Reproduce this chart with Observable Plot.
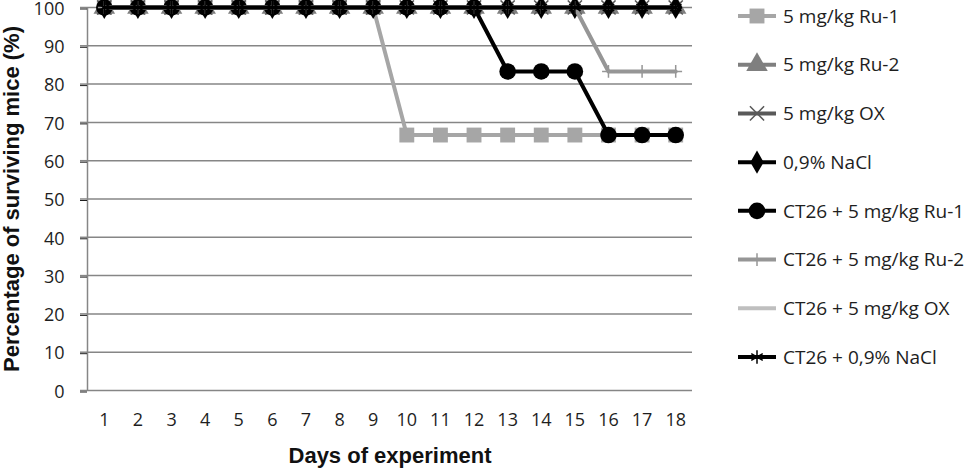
<!DOCTYPE html>
<html>
<head>
<meta charset="utf-8">
<script src="https://cdn.jsdelivr.net/npm/d3@7"></script>
<script src="https://cdn.jsdelivr.net/npm/@observablehq/plot@0.6"></script>
<style>
  html, body { margin: 0; padding: 0; background: #fff; }
  #wrap { position: relative; width: 978px; height: 469px; overflow: hidden; }
  #chart { position: absolute; left: 0; top: 0; }
  #legend { position: absolute; left: 734px; top: 0; }
</style>
</head>
<body>
<div id="wrap"><div id="chart"></div><div id="legend"></div></div>
<script>
// ---- data ----
const days = [1, 2, 3, 4, 5, 6, 7, 8, 9, 10, 11, 12, 13, 14, 15, 16, 17, 18];
const seriesNames = [
  "5 mg/kg Ru-1",
  "5 mg/kg Ru-2",
  "5 mg/kg OX",
  "0,9% NaCl",
  "CT26 + 5 mg/kg Ru-1",
  "CT26 + 5 mg/kg Ru-2",
  "CT26 + 5 mg/kg OX",
  "CT26 + 0,9% NaCl"
];
const ru1      = [100, 100, 100, 100, 100, 100, 100, 100, 100, 66.7, 66.7, 66.7, 66.7, 66.7, 66.7, 66.7, 66.7, 66.7];
const ru2      = [100, 100, 100, 100, 100, 100, 100, 100, 100, 100, 100, 100, 100, 100, 100, 100, 100, 100];
const ox       = [100, 100, 100, 100, 100, 100, 100, 100, 100, 100, 100, 100, 100, 100, 100, 100, 100, 100];
const nacl     = [100, 100, 100, 100, 100, 100, 100, 100, 100, 100, 100, 100, 100, 100, 100, 100, 100, 100];
const ct26Ru1  = [100, 100, 100, 100, 100, 100, 100, 100, 100, 100, 100, 100, 83.3, 83.3, 83.3, 66.7, 66.7, 66.7];
const ct26Ru2  = [100, 100, 100, 100, 100, 100, 100, 100, 100, 100, 100, 100, 100, 100, 100, 83.3, 83.3, 83.3];
const ct26Ox   = [100, 100, 100, 100, 100, 100, 100, 100, 100, 100, 100, 100, 100, 100, 100, 100, 100, 100];
const ct26Nacl = [100, 100, 100, 100, 100, 100, 100, 100, 100, 100, 100, 100, 100, 100, 100, 100, 100, 100];
const seriesValues = [ru1, ru2, ox, nacl, ct26Ru1, ct26Ru2, ct26Ox, ct26Nacl];
const yTicks = [0, 10, 20, 30, 40, 50, 60, 70, 80, 90, 100];
const xTitle = "Days of experiment";
const yTitle = "Percentage of surviving mice (%)";

// ---- styles ----
const styles = [
  {color: "#a6a6a6", width: 4, symbol: "square",   r: 8.4, filled: true},
  {color: "#7f7f7f", width: 4, symbol: "triangle", r: 8,   filled: true},
  {color: "#595959", width: 4, symbol: "times",    r: 6.5, filled: false, sw: 1.5},
  {color: "#000000", width: 4, symbol: "diamond",  r: 7,   filled: true},
  {color: "#000000", width: 4, symbol: "circle",   r: 8.3, filled: true},
  {color: "#969696", width: 4, symbol: "plus",     r: 4.2, filled: false, sw: 1.5},
  {color: "#bfbfbf", width: 4, symbol: null},
  {color: "#000000", width: 4, symbol: "asterisk", r: 6.3, filled: false, sw: 1.5}
];

const xDomain = [0.5, 18.5];
const gridColor = "#868686";
const textColor = "#1e1e1e";

const marks = [
  Plot.ruleY(yTicks, {stroke: gridColor, strokeWidth: 1.5}),
  Plot.ruleX([xDomain[0]], {stroke: gridColor, strokeWidth: 1.5}),
  Plot.axisY({ticks: yTicks, tickSize: 7, tickPadding: 16, stroke: gridColor, strokeWidth: 1.5,
              label: null, text: null}),
  Plot.axisY({ticks: yTicks, tickSize: 7, tickPadding: 16, tick: null, fill: textColor, dy: 1.5,
              fontSize: 18, fontFamily: "Open Sans", label: null}),
  Plot.axisY({ticks: [], tickSize: 0, label: yTitle, labelAnchor: "center", labelOffset: 84, labelArrow: "none",
              fontSize: 22, fontWeight: "bold", fontFamily: "Liberation Sans", fill: "#111"}),
  Plot.axisX({ticks: days, tickSize: 0, tickPadding: 23, fill: textColor, fontSize: 18, fontFamily: "Open Sans",
              tickFormat: d => String(d), label: null}),
  Plot.axisX({ticks: [], tickSize: 0, label: xTitle, labelAnchor: "center", labelOffset: 72, labelArrow: "none",
              fontSize: 22, fontWeight: "bold", fontFamily: "Liberation Sans", fill: "#111"})
];

seriesNames.forEach((name, i) => {
  const data = days.map((d, j) => ({day: d, value: seriesValues[i][j], name}));
  const s = styles[i];
  marks.push(Plot.line(data, {x: "day", y: "value", stroke: s.color, strokeWidth: s.width, strokeLinejoin: "round"}));
  if (s.symbol) {
    marks.push(Plot.dot(data, {
      x: "day", y: "value", symbol: () => s.symbol, r: s.r,
      fill: s.filled ? s.color : "none",
      stroke: s.filled ? "none" : s.color,
      strokeWidth: s.sw || 1
    }));
  }
});

const chart = Plot.plot({
  width: 978,
  height: 469,
  marginLeft: 87,
  marginRight: 286,
  marginTop: 7,
  marginBottom: 79,
  x: {type: "linear", domain: xDomain, axis: null},
  y: {type: "linear", domain: [0, 100], axis: null},
  symbol: {type: "identity"},
  style: {fontFamily: "Open Sans", fontSize: "18px", color: textColor, background: "transparent", overflow: "visible"},
  marks
});
document.getElementById("chart").appendChild(chart);

// ---- legend ----
const lw = 244, lh = 380;
const lsvg = d3.select("#legend").append("svg").attr("width", lw).attr("height", lh)
  .style("overflow", "visible");
const symbolMap = {
  square: d3.symbolSquare, triangle: d3.symbolTriangle, times: d3.symbolTimes,
  diamond: d3.symbolDiamond, circle: d3.symbolCircle, plus: d3.symbolPlus, asterisk: d3.symbolAsterisk
};
const ly = d3.scalePoint().domain(seriesNames).range([16, 357]);
seriesNames.forEach((name, i) => {
  const s = styles[i];
  const g = lsvg.append("g").attr("transform", `translate(0,${ly(name)})`);
  g.append("line").attr("x1", 4).attr("x2", 42).attr("y1", 0).attr("y2", 0)
    .attr("stroke", s.color).attr("stroke-width", s.width);
  if (s.symbol) {
    const size = Math.PI * s.r * s.r;
    g.append("path").attr("transform", "translate(23,0)")
      .attr("d", d3.symbol(symbolMap[s.symbol], size)())
      .attr("fill", s.filled ? s.color : "none")
      .attr("stroke", s.filled ? "none" : s.color)
      .attr("stroke-width", s.sw || 1);
  }
  g.append("text").attr("x", 49).attr("y", 0).attr("dy", "0.35em")
    .attr("font-family", "Open Sans").attr("font-size", 19).attr("fill", textColor)
    .text(name);
});
</script>
</body>
</html>
